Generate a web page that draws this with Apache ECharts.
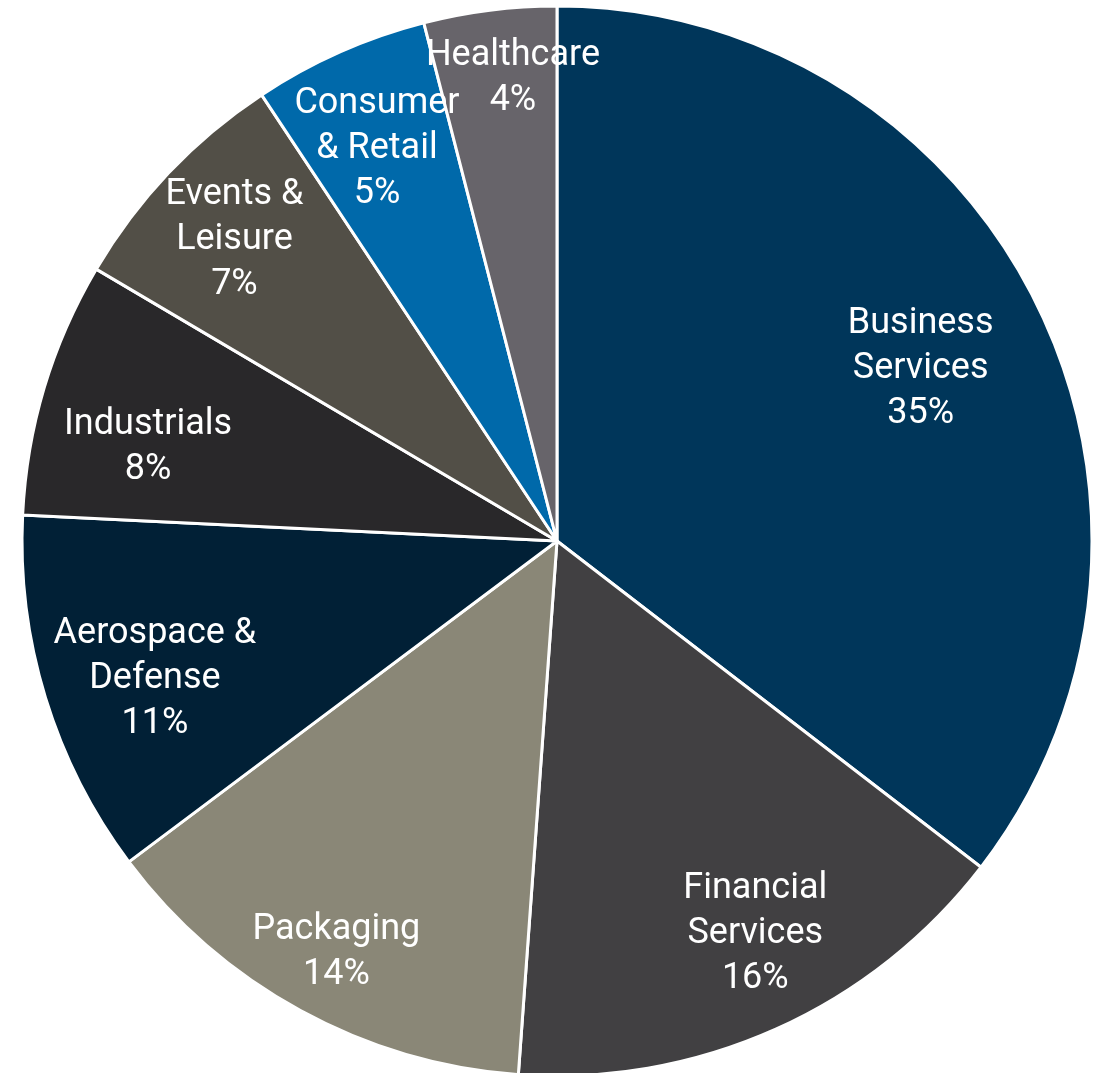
<!DOCTYPE html>
<html>
<head>
<meta charset="utf-8">
<script src="https://cdn.jsdelivr.net/npm/echarts@6/dist/echarts.min.js"></script>
<style>
html,body{margin:0;padding:0;background:#fff;}
#chart{width:1099px;height:1073px;}
</style>
</head>
<body>
<div id="chart"></div>
<script>
const categories = ['Business\nServices', 'Financial\nServices', 'Packaging', 'Aerospace &\nDefense', 'Industrials', 'Events &\nLeisure', 'Consumer\n& Retail', 'Healthcare'];
const shares = [35.4, 15.7, 13.6, 11.0, 7.7, 7.2, 5.3, 4.0];
const colors = ['#00365a', '#414042', '#8a8777', '#012036', '#29282a', '#524f47', '#0069aa', '#67646a'];
// small label nudges (px) to mimic the hand-placed labels of the original
const labelNudges = [[-23, 18], [22, 0], [-14, 33], [10, 12], [4, 30], [-10, -4], [-5, 2], [10, -35]];

const center = [557, 541];
const R = 535;

const chart = echarts.init(document.getElementById('chart'));
chart.setOption({
  animation: false,
  series: [
    {
      type: 'pie',
      center: center,
      radius: [0, R],
      startAngle: 90,
      clockwise: true,
      silent: true,
      data: categories.map((c, i) => ({ name: c, value: shares[i], itemStyle: { color: colors[i] } })),
      itemStyle: { borderColor: '#ffffff', borderWidth: 3 },
      label: { show: false },
      labelLine: { show: false }
    },
    {
      type: 'pie',
      center: center,
      radius: [R * 0.6, R],
      startAngle: 90,
      clockwise: true,
      silent: true,
      avoidLabelOverlap: false,
      labelLayout: { hideOverlap: false },
      data: categories.map((c, i) => ({ name: c, value: shares[i], label: { offset: labelNudges[i] } })),
      itemStyle: { color: 'rgba(0,0,0,0)', borderWidth: 0 },
      label: {
        show: true,
        position: 'inside',
        color: '#ffffff',
        fontFamily: 'Roboto',
        fontWeight: 400,
        fontSize: 36,
        lineHeight: 45,
        align: 'center',
        overflow: 'none',
        formatter: p => p.name + '\n' + Math.round(p.percent) + '%'
      },
      labelLine: { show: false }
    }
  ]
});
</script>
</body>
</html>
